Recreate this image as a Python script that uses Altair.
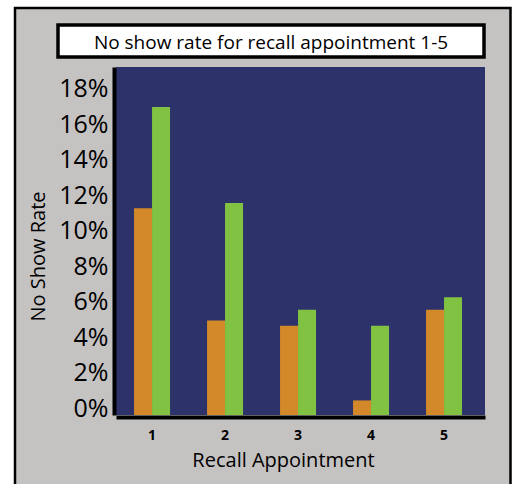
import altair as alt
import pandas as pd

# Recall appointment number and the two no-show series (as fractions)
appointments = [1, 2, 3, 4, 5]
series_a = [0.112, 0.049, 0.046, 0.004, 0.055]   # orange bars
series_b = [0.169, 0.115, 0.055, 0.046, 0.062]   # green bars
y_ticks = [0, 0.02, 0.04, 0.06, 0.08, 0.10, 0.12, 0.14, 0.16, 0.18]

rows = []
for i, a in enumerate(appointments):
    rows.append({"appointment": a, "series": "A", "rate": series_a[i]})
    rows.append({"appointment": a, "series": "B", "rate": series_b[i]})
df = pd.DataFrame(rows)

W, H = 369, 348
Y_MIN, Y_MAX = -0.0042, 0.1915

NAVY = "#2d336a"
GRAY = "#c5c2c2"
ORANGE = "#d3882a"
GREEN = "#81c242"
FONT = "Open Sans"

one = alt.Data(values=[{"k": 0}])

# gray panel with thin black border
frame = alt.Chart(one).mark_rect(
    fill=GRAY, stroke="black", strokeWidth=2.5
).encode(
    x=alt.value(-101), x2=alt.value(394.5),
    y=alt.value(-59), y2=alt.value(430),
)

# navy plotting area
plot_bg = alt.Chart(one).mark_rect(fill=NAVY).encode(
    x=alt.value(0), x2=alt.value(W), y=alt.value(0), y2=alt.value(H)
)

# boxed chart title
title_box = alt.Chart(one).mark_rect(
    fill="white", stroke="black", strokeWidth=3.5
).encode(
    x=alt.value(-58), x2=alt.value(368), y=alt.value(-42), y2=alt.value(-10)
)
title_text = alt.Chart(one).mark_text(
    text="No show rate for recall appointment 1-5",
    font=FONT, fontSize=19, color="black",
    align="center", baseline="alphabetic",
).encode(x=alt.value(155), y=alt.value(-18.5))

bars = alt.Chart(df).mark_bar(strokeWidth=0).encode(
    x=alt.X(
        "appointment:O",
        scale=alt.Scale(paddingInner=0.507, paddingOuter=0.281, align=0.44),
        axis=alt.Axis(
            title="Recall Appointment",
            labelAngle=0,
            labelFont=FONT, labelFontSize=14, labelFontWeight="bold",
            labelColor="black", labelPadding=11,
            ticks=False, tickSize=0,
            domainColor="black", domainWidth=4, offset=2,
            titleFont=FONT, titleFontSize=20, titleFontWeight="normal",
            titleColor="black", titleX=167, titleY=49,
            titleAlign="center", titleBaseline="alphabetic",
            zindex=1,
        ),
    ),
    xOffset=alt.XOffset("series:N", scale=alt.Scale(paddingInner=0, paddingOuter=0)),
    y=alt.Y(
        "rate:Q",
        scale=alt.Scale(domain=[Y_MIN, Y_MAX], nice=False, zero=False),
        axis=alt.Axis(
            title="No Show Rate",
            values=y_ticks, format=".0%",
            labelFont=FONT, labelFontSize=25, labelColor="black",
            labelPadding=6, labelOffset=1,
            ticks=False, tickSize=0, grid=False,
            domainColor="black", domainWidth=4, offset=2,
            titleFont=FONT, titleFontSize=20, titleFontWeight="normal",
            titleColor="black", titleAngle=-90,
            titleX=-69.5, titleY=189,
            titleAlign="center", titleBaseline="alphabetic",
            zindex=1,
        ),
    ),
    y2=alt.datum(Y_MIN),
    color=alt.Color(
        "series:N",
        scale=alt.Scale(domain=["A", "B"], range=[ORANGE, GREEN]),
        legend=None,
    ),
)

chart = alt.layer(frame, plot_bg, title_box, title_text, bars).properties(
    width=W,
    height=H,
    autosize=alt.AutoSizeParams(type="none"),
    padding={"left": 116, "top": 67, "right": 31, "bottom": 69},
    background="white",
).configure_view(strokeWidth=0)

chart.save("out.html", embed_options={"renderer": "svg", "actions": False})
